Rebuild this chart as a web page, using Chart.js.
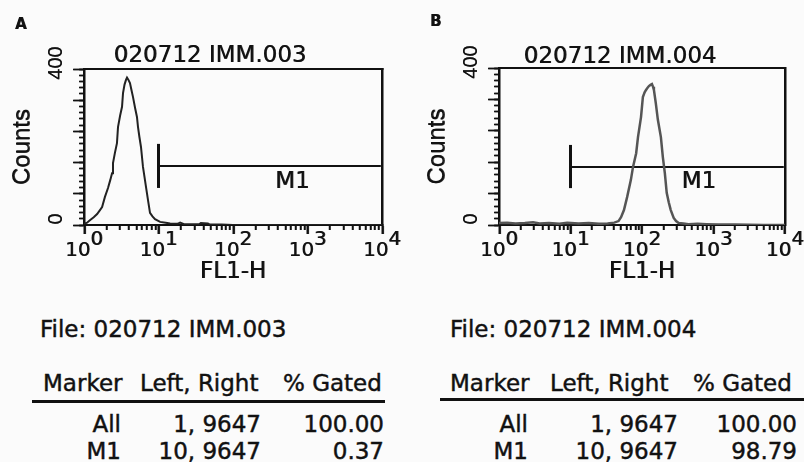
<!DOCTYPE html>
<html><head><meta charset="utf-8">
<script src="https://cdn.jsdelivr.net/npm/chart.js@4.4.0/dist/chart.umd.min.js"></script>
<style>
html,body{margin:0;padding:0;background:#fbfbfb;}
#page{position:relative;width:804px;height:462px;overflow:hidden;font-family:"DejaVu Sans";color:#111;background:#fbfbfb;}
.cv{position:absolute;top:0;width:402px;height:300px;}
.t{position:absolute;font-family:"DejaVu Sans";font-size:23px;line-height:23px;white-space:pre;color:#111;-webkit-text-stroke:0.45px #111;}
.rule{position:absolute;height:3px;background:#111;}
</style></head><body>
<div id="page">
  <div class="cv" style="left:0"><canvas id="cA" width="402" height="300"></canvas></div>
  <div class="cv" style="left:402px"><canvas id="cB" width="402" height="300"></canvas></div>
</div>
<script>
// ---------- data ----------
const panelLetters = ['A', 'B'];
const fileNames = ['020712 IMM.003', '020712 IMM.004'];
const xTitle = 'FL1-H';
const yTitle = 'Counts';
const markerName = 'M1';

const xMajorTicks = [1, 10, 100, 1000, 10000];
const xTickBase = '10';
const xTickExponents = ['0', '1', '2', '3', '4'];
const xMinorTicks = [2,3,4,5,6,7,8,9, 20,30,40,50,60,70,80,90, 200,300,400,500,600,700,800,900, 2000,3000,4000,5000,6000,7000,8000,9000];
const yMajorTicks = [0, 80, 160, 240, 320, 400];
const yMinorTicks = [0,16,32,48,64,80,96,112,128,144,160,176,192,208,224,240,256,272,288,304,320,336,352,368,384,400];
const yLabelValues = [0, 400];
const yTickLabels = ['0', '400'];

// histogram A (FL1-H channel value, counts)
const histAX = [1.0, 1.1, 1.2, 1.35, 1.5, 1.62, 1.75, 1.91, 2.1, 2.25, 2.38, 2.45, 2.6, 2.77, 2.86, 3.05, 3.24, 3.34, 3.5, 3.66, 3.78, 3.95, 4.14, 4.35, 4.55, 4.85, 5.14, 5.31, 5.55, 5.82, 6.19, 6.5, 6.8, 7.23, 7.69, 8.3, 8.98, 10.5, 12.5, 14.3, 18, 19.5, 22, 26, 35, 37, 46, 49, 70, 100, 200, 500, 1000, 10000];
const histAY = [3, 6, 12, 20, 28, 37, 46, 72, 95, 115, 133, 159, 185, 210, 251, 280, 303, 338, 360, 372, 378, 372, 364, 345, 328, 300, 277, 251, 225, 200, 149, 122, 97, 64, 31, 22, 15, 8, 6, 4, 3, 6, 2, 2, 2, 5, 4, 1, 1, 0, 0, 0, 0, 0];

// histogram B
const histBX = [1, 1.3, 1.7, 2.3, 3, 3.7, 5, 7, 9, 13, 18, 25, 33, 41, 47, 51, 56, 62, 70, 75, 83, 88, 97, 103, 109, 114, 120, 125, 132, 138, 143, 147, 156, 167, 184, 196, 209, 222, 237, 253, 278, 300, 326, 380, 448, 600, 800, 1170, 2000, 5000, 10000];
const histBY = [5, 6, 4, 5, 7, 4, 5, 3, 6, 4, 5, 3, 4, 6, 10, 20, 38, 71, 115, 148, 183, 224, 275, 326, 338, 344, 350, 354, 357, 359, 352, 344, 311, 268, 224, 173, 132, 82, 58, 38, 18, 10, 5, 4, 2, 3, 2, 1, 1, 0, 0];

// marker M1: channel range, level (counts), vertical bar extent (counts)
const markerRange = [10, 9647];
const markerLevelA = 151;
const markerBarA = [95, 208];
const markerLevelB = 148;
const markerBarB = [94, 204];
const markerLabelAt = [625, 110];

// statistics tables
const tableHeader = ['Marker', 'Left, Right', '% Gated'];
const rowMarkers = ['All', 'M1'];
const rowRangesA = ['1, 9647', '10, 9647'];
const rowGatedA = ['100.00', '0.37'];
const rowRangesB = ['1, 9647', '10, 9647'];
const rowGatedB = ['100.00', '98.79'];

// ---------- drawing ----------
const INK = '#111';
const FS = '\u2007';
const setTicks = arr => s => { s.ticks = arr.map(v => ({value: v})); };
const fixW = w => s => { s.width = w; };
const fixH = h => s => { s.height = h; };

function heavy(ctx, on) {
  ctx.shadowColor = on ? 'rgba(17,17,17,0.85)' : 'rgba(0,0,0,0)';
  ctx.shadowBlur = 0;
  ctx.shadowOffsetX = on ? 0.6 : 0;
  ctx.shadowOffsetY = 0;
}

const panelText = {
  id: 'panelText',
  beforeDraw(chart) { heavy(chart.ctx, true); },
  beforeDatasetsDraw(chart) { heavy(chart.ctx, false); },
  afterDraw(chart, args, o) {
    const ctx = chart.ctx;
    ctx.save();
    heavy(ctx, true);
    ctx.fillStyle = INK;
    ctx.font = 'bold 15px "DejaVu Sans"';
    ctx.textAlign = 'left';
    ctx.textBaseline = 'alphabetic';
    ctx.fillText(o.letter, o.letterX, o.letterY);
    ctx.font = '23px "DejaVu Sans"';
    ctx.textAlign = 'center';
    ctx.fillText(o.title, o.titleX, o.titleY);
    ctx.textBaseline = 'middle';
    ctx.fillText(markerName, chart.scales.x.getPixelForValue(markerLabelAt[0]), chart.scales.y.getPixelForValue(markerLabelAt[1]));
    ctx.restore();
    heavy(ctx, false);
  }
};

function pts(xs, ys) { return xs.map((x, i) => ({x, y: ys[i]})); }

function makeChart(id, p) {
  return new Chart(document.getElementById(id), {
    type: 'scatter',
    data: {
      datasets: [
        {data: pts(p.hx, p.hy), showLine: true, borderColor: p.lineColor, borderWidth: p.lineWidth, pointRadius: 0, tension: 0, fill: false},
        {data: pts([markerRange[0], markerRange[0]], p.bar), showLine: true, borderColor: INK, borderWidth: 3, pointRadius: 0},
        {data: pts(markerRange, [p.level, p.level]), showLine: true, borderColor: INK, borderWidth: 2, pointRadius: 0}
      ]
    },
    options: {
      responsive: false,
      animation: false,
      events: [],
      layout: {padding: {left: 0, right: p.padR, top: p.padT, bottom: 0}},
      plugins: {
        legend: {display: false}, tooltip: {enabled: false}, title: {display: false},
        panelText: {letter: p.letter, letterX: p.letterX, letterY: p.letterY, title: p.title, titleX: p.titleX, titleY: p.titleY}
      },
      scales: {
        x: {
          type: 'logarithmic', position: 'bottom', min: 1, max: 10000, weight: 1,
          afterBuildTicks: setTicks(xMajorTicks), afterFit: fixH(75),
          grid: {display: true, drawOnChartArea: false, drawTicks: true, tickLength: 9, tickWidth: 2, tickColor: INK},
          border: {display: true, width: 2, color: INK},
          ticks: {autoSkip: false, maxRotation: 0, minRotation: 0, padding: 0, color: INK,
            font: {family: 'DejaVu Sans', size: 20, lineHeight: 0.55},
            callback: (v, i) => [FS + FS + xTickExponents[i], xTickBase + FS]},
          title: {display: true, text: xTitle, color: INK, font: {family: 'DejaVu Sans', size: 23, lineHeight: 1.2}, padding: {top: 0, bottom: 14}}
        },
        xMinor: {
          type: 'logarithmic', position: 'bottom', min: 1, max: 10000, weight: 0,
          afterBuildTicks: setTicks(xMinorTicks), afterFit: fixH(0),
          grid: {display: true, drawOnChartArea: false, drawTicks: true, tickLength: 5, tickWidth: 1.5, tickColor: INK},
          border: {display: false}, ticks: {display: false}
        },
        xTop: {
          type: 'linear', position: 'top', afterFit: fixH(0),
          grid: {display: false}, border: {display: true, width: 2, color: INK}, ticks: {display: false}
        },
        y: {
          type: 'linear', position: 'left', min: 0, max: 400, weight: 1,
          afterBuildTicks: setTicks(yMajorTicks), afterFit: fixW(p.yW),
          grid: {display: true, drawOnChartArea: false, drawTicks: true, tickLength: 11, tickWidth: 1.5, tickColor: INK},
          border: {display: true, width: 2, color: INK},
          ticks: {autoSkip: false, minRotation: 90, maxRotation: 90, crossAlign: 'center', padding: 0, labelOffset: -6, color: INK,
            font: {family: 'Liberation Sans', size: 20},
            callback: v => { const i = yLabelValues.indexOf(v); return i >= 0 ? yTickLabels[i] : ''; }},
          title: {display: true, text: yTitle, color: INK, font: {family: 'Liberation Sans', size: 24, lineHeight: 1.2}, padding: {top: p.yTitlePad, bottom: 0}}
        },
        yMinor: {
          type: 'linear', position: 'left', min: 0, max: 400, weight: 0,
          afterBuildTicks: setTicks(yMinorTicks), afterFit: fixW(0),
          grid: {display: true, drawOnChartArea: false, drawTicks: true, tickLength: 5, tickWidth: 1.5, tickColor: INK},
          border: {display: false}, ticks: {display: false}
        },
        yRight: {
          type: 'linear', position: 'right', afterFit: fixW(0),
          grid: {display: false}, border: {display: true, width: 2, color: INK}, ticks: {display: false}
        }
      }
    },
    plugins: [panelText]
  });
}

makeChart('cA', {hx: histAX, hy: histAY, lineColor: '#222', lineWidth: 2, bar: markerBarA, level: markerLevelA,
  padR: 20, padT: 69, yW: 84, yTitlePad: 8,
  letter: panelLetters[0], letterX: 15, letterY: 29, title: fileNames[0], titleX: 210, titleY: 62});
makeChart('cB', {hx: histBX, hy: histBY, lineColor: '#555', lineWidth: 2.5, bar: markerBarB, level: markerLevelB,
  padR: 17, padT: 68, yW: 97, yTitlePad: 21,
  letter: panelLetters[1], letterX: 28, letterY: 26, title: fileNames[1], titleX: 218, titleY: 63});

// ---------- tables ----------
const page = document.getElementById('page');
const ASC = 19.46;
function txt(s, x, base, right) {
  const e = document.createElement('div');
  e.className = 't';
  e.textContent = s;
  e.style.top = (base - ASC) + 'px';
  e.style.left = x + 'px';
  if (right) e.style.transform = 'translateX(-100%)';
  page.appendChild(e);
}
function rule(x, y, w) {
  const e = document.createElement('div');
  e.className = 'rule';
  e.style.left = x + 'px'; e.style.top = y + 'px'; e.style.width = w + 'px';
  page.appendChild(e);
}
function table(t) {
  txt('File: ' + t.file, t.fileX, 337, false);
  t.headX.forEach((x, i) => txt(tableHeader[i], x, 391, false));
  rule(t.ruleX, t.ruleY, t.ruleW);
  [432, 459].forEach((b, r) => {
    txt(rowMarkers[r], t.colR[0], b, true);
    txt(t.ranges[r], t.colR[1], b, true);
    txt(t.gated[r], t.colR[2], b, true);
  });
}
table({file: fileNames[0], fileX: 40, headX: [43, 140, 283], ruleX: 32, ruleY: 400, ruleW: 353, colR: [121, 261, 384], ranges: rowRangesA, gated: rowGatedA});
table({file: fileNames[1], fileX: 450, headX: [450, 550, 693], ruleX: 440, ruleY: 398, ruleW: 364, colR: [528, 678, 797], ranges: rowRangesB, gated: rowGatedB});
</script>
</body></html>
